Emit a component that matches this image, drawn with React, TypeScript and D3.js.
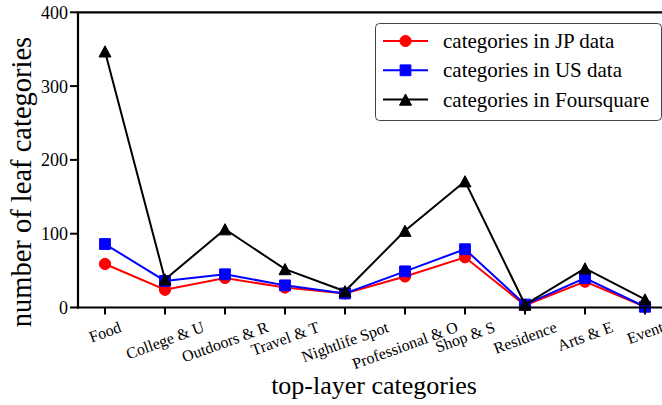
import React, { useEffect, useRef } from "react";
import * as d3 from "d3";

const categories = [
  "Food",
  "College & U",
  "Outdoors & R",
  "Travel & T",
  "Nightlife Spot",
  "Professional & O",
  "Shop & S",
  "Residence",
  "Arts & E",
  "Event",
];

const jpValues = [59, 24, 40, 27, 19, 42, 68, 3, 35, 1];
const usValues = [86, 36, 45, 30, 19, 49, 79, 4, 40, 1];
const foursquareValues = [347, 38, 106, 52, 22, 104, 171, 4, 53, 11];

const yTicks = [0, 100, 200, 300, 400];

const seriesNames = [
  "categories in JP data",
  "categories in US data",
  "categories in Foursquare",
];

const W = 662;
const H = 405;
const FONT = "'Liberation Serif', 'Times New Roman', serif";

type Series = { name: string; values: number[]; color: string; marker: string };

const series: Series[] = [
  { name: seriesNames[0], values: jpValues, color: "#ff0000", marker: "circle" },
  { name: seriesNames[1], values: usValues, color: "#0000ff", marker: "square" },
  { name: seriesNames[2], values: foursquareValues, color: "#000000", marker: "triangle" },
];

function markerPath(kind: string): string {
  if (kind === "circle") {
    const r = 5.6;
    return `M${-r},0A${r},${r} 0 1,0 ${r},0A${r},${r} 0 1,0 ${-r},0Z`;
  }
  if (kind === "square") {
    const s = 5.4;
    return `M${-s},${-s}H${s}V${s}H${-s}Z`;
  }
  const hw = 6;
  const hh = 5.6;
  return `M0,${-hh}L${hw},${hh}L${-hw},${hh}Z`;
}

export default function App() {
  const ref = useRef<SVGSVGElement | null>(null);

  useEffect(() => {
    const svg = d3.select(ref.current);
    svg.selectAll("*").remove();

    const x0 = 78;
    const yZero = 307.5;
    const yTop = 12.3;

    const x = d3.scalePoint<string>().domain(categories).range([105, 645]);
    const y = d3.scaleLinear().domain([0, 400]).range([yZero, yTop]);

    svg.append("rect").attr("width", W).attr("height", H).attr("fill", "#fff");

    // data lines and markers
    const line = d3
      .line<number>()
      .x((_, i) => x(categories[i]) as number)
      .y((d) => y(d));

    series.forEach((s) => {
      const g = svg.append("g");
      g.append("path")
        .attr("d", line(s.values) as string)
        .attr("fill", "none")
        .attr("stroke", s.color)
        .attr("stroke-width", 2);
      g.selectAll("path.m")
        .data(s.values)
        .enter()
        .append("path")
        .attr("class", "m")
        .attr("d", markerPath(s.marker))
        .attr("transform", (d, i) => `translate(${x(categories[i])},${y(d)})`)
        .attr("fill", s.color)
        .attr("stroke", s.color)
        .attr("stroke-width", 1);
    });

    // frame: left, bottom, top
    const frame = svg.append("g").attr("stroke", "#000").attr("stroke-width", 2.2);
    frame.append("line").attr("x1", x0).attr("x2", x0).attr("y1", yTop).attr("y2", yZero + 1.1);
    frame.append("line").attr("x1", x0 - 1.1).attr("x2", W + 5).attr("y1", yZero).attr("y2", yZero);
    frame.append("line").attr("x1", x0 - 1.1).attr("x2", W + 5).attr("y1", yTop).attr("y2", yTop);

    // y ticks
    yTicks.forEach((t) => {
      const yy = y(t);
      svg.append("line")
        .attr("x1", x0 - 8).attr("x2", x0).attr("y1", yy).attr("y2", yy)
        .attr("stroke", "#000").attr("stroke-width", 2);
      svg.append("text")
        .attr("x", x0 - 10).attr("y", yy + 6.5)
        .attr("text-anchor", "end")
        .attr("font-family", FONT).attr("font-size", 18)
        .text(String(t));
    });

    // x ticks and rotated labels
    const fs = 16;
    const ang = (20 * Math.PI) / 180;
    categories.forEach((c) => {
      const xx = x(c) as number;
      svg.append("line")
        .attr("x1", xx).attr("x2", xx).attr("y1", yZero).attr("y2", yZero + 7)
        .attr("stroke", "#000").attr("stroke-width", 2);
      const t = svg.append("text")
        .attr("font-family", FONT).attr("font-size", fs)
        .attr("text-anchor", "middle")
        .text(c);
      const w = (t.node() as SVGTextElement).getComputedTextLength();
      const boxH = 1.15 * fs;
      const rotH = w * Math.sin(ang) + boxH * Math.cos(ang);
      const cy = yZero + 10 + rotH / 2;
      t.attr("transform", `translate(${xx},${cy}) rotate(-20)`).attr("dy", "0.35em");
    });

    // axis titles
    svg.append("text")
      .attr("x", 374).attr("y", 394)
      .attr("text-anchor", "middle")
      .attr("font-family", FONT).attr("font-size", 26)
      .text("top-layer categories");
    svg.append("text")
      .attr("transform", `translate(31,182) rotate(-90)`)
      .attr("text-anchor", "middle")
      .attr("font-family", FONT).attr("font-size", 28.5)
      .text("number of leaf categories");

    // legend
    const lg = svg.append("g");
    lg.append("rect")
      .attr("x", 375.5).attr("y", 23.5).attr("width", 286).attr("height", 97)
      .attr("rx", 4).attr("ry", 4)
      .attr("fill", "#fff").attr("stroke", "#444").attr("stroke-width", 1);
    series.forEach((s, i) => {
      const yy = 41 + i * 29.3;
      lg.append("line")
        .attr("x1", 383).attr("x2", 428).attr("y1", yy).attr("y2", yy)
        .attr("stroke", s.color).attr("stroke-width", 2);
      lg.append("path")
        .attr("d", markerPath(s.marker))
        .attr("transform", `translate(405.5,${yy})`)
        .attr("fill", s.color).attr("stroke", s.color).attr("stroke-width", 1);
      lg.append("text")
        .attr("x", 443).attr("y", yy + 7)
        .attr("font-family", FONT).attr("font-size", 21)
        .text(s.name);
    });
  }, []);

  return (
    <svg
      ref={ref}
      width={W}
      height={H}
      style={{ position: "absolute", left: 0, top: 0, display: "block" }}
    />
  );
}
